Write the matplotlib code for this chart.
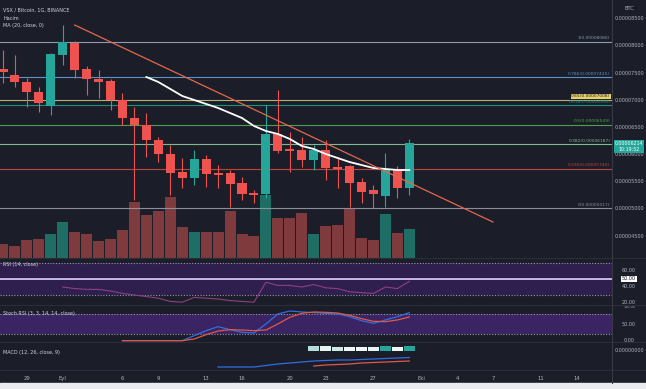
import numpy as np
import matplotlib.pyplot as plt

plt.rcParams['font.family'] = ['Liberation Sans Narrow', 'DejaVu Sans']

# VSX / Bitcoin, 1 day candles, 27 Aug -> 30 Sep. prices in satoshi (1e-8 BTC)
opens = [7575, 7464, 7335, 7151, 6894, 7832, 8053, 7575, 7391, 7354,
         7004, 6673, 6544, 6268, 6011, 5679, 5569, 5919, 5661, 5661,
         5477, 5293, 5275, 6379, 6103, 6084, 5900, 6084, 5771, 5790,
         5495, 5348, 5238, 5735, 5385]
highs = [7924, 7832, 7409, 7243, 7869, 8384, 8090, 7630, 7556, 7391,
         7133, 6875, 6765, 6323, 6176, 5937, 6084, 5992, 5808, 5716,
         5587, 5348, 6912, 7188, 6415, 6323, 6176, 6268, 5955, 5808,
         5569, 5440, 6029, 5790, 6287]
lows = [7317, 7243, 6875, 6783, 6728, 7648, 7409, 7096, 7041, 6820,
        6544, 5164, 5955, 5863, 5256, 5385, 5440, 5403, 5385, 5035,
        5164, 5109, 5200, 6029, 5679, 5771, 5716, 5532, 5385, 5035,
        5109, 5017, 5035, 5201, 5256]
closes = [7519, 7335, 7151, 6949, 7851, 8071, 7556, 7391, 7335, 7004,
          6673, 6544, 6268, 6011, 5661, 5569, 5919, 5643, 5624, 5459,
          5275, 5256, 6379, 6066, 6066, 5900, 6084, 5753, 5735, 5477,
          5311, 5275, 5735, 5385, 6214]
volumes = [1.4, 1.2, 1.8, 1.9, 2.4, 3.6, 2.6, 2.4, 1.7, 1.9,
           2.8, 5.6, 4.3, 4.7, 6.1, 3.1, 2.6, 2.6, 2.6, 4.7,
           2.4, 2.2, 6.3, 4.0, 4.0, 4.5, 2.4, 3.2, 3.3, 4.9,
           2.0, 1.8, 4.4, 2.5, 2.9]

# MA(20) starts on day 12 (8 Sep)
ma_start = 12
ma20 = [7427, 7335, 7207, 7078, 7004, 6931, 6857, 6765, 6673, 6526,
        6434, 6379, 6287, 6158, 6103, 6011, 5937, 5863, 5808, 5753,
        5735, 5716, 5716]

# fibonacci retracement drawn by hand
fib_levels = ['0', '0.236', '0.382', '0.5', '0.618', '0.65', '0.786', '1']
fib_prices = [5017, 5740, 6187, 6549, 6910, 7008, 7425, 8080]
fib_colors = ['#8c8f99', '#c0433b', '#7fb88f', '#4e9e52', '#1f8f80', '#b9ad7a', '#5b93c9', '#8d9bb0']

# trend line (day, price)
trend_days = [6, 41]
trend_prices = [8384, 4759]

# RSI(14) from day 5
rsi_start = 5
rsi = [40, 38, 37, 37, 35, 32, 30, 28, 26, 22,
       21, 27, 26, 25, 23, 22, 21, 46, 42, 42,
       40, 43, 39, 38, 34, 33, 32, 40, 38, 47]

# Stoch RSI from day 10
st_start = 10
stoch_k = [0, 0, 0, 0, 0, 0, 15, 30, 42, 33, 25, 23, 50, 80, 89, 86, 84, 82, 80, 72, 60, 52, 62, 72, 84]
stoch_d = [0, 0, 0, 0, 0, 0, 5, 18, 29, 33, 32, 30, 32, 50, 70, 82, 86, 85, 83, 76, 66, 58, 57, 62, 71]

# MACD (units of 1e-8 BTC)
macd_start = 18
macd = [-16, -16, -16, -16, -14.5, -13, -12, -11, -10, -9.5, -9, -9, -8.5, -8, -7.5, -7, -6.5]
sig_start = 26
signal = [-15, -14, -13.5, -13, -12, -11.5, -11, -10.5, -10]
hist = [5, 5, 4.5, 4.5, 4.5, 4.5, 5, 4.5, 5]
hist_colors = ['#b2dfdb', '#e6f4f2', '#cfeae6', '#eef7f6', '#eef7f6', '#e6f4f2', '#26a69a', '#eef7f6', '#26a69a']

tick_days = [2, 5, 10, 13, 17, 20, 24, 27, 31, 35, 38, 41, 45, 48]
tick_labels = ['29', 'Eyl', '6', '9', '13', '16', '20', '23', '27', 'Eki', '4', '7', '11', '14']

BG = '#1b1e29'
TXT = '#b2b5be'
UP, DOWN = '#26a69a', '#ef5350'
W, H = 646, 389
RIGHT = 612
LAB_X = 629 / RIGHT  # centre of the price scale, in axes units

fig = plt.figure(figsize=(W / 100, H / 100), dpi=100)
fig.patch.set_facecolor(BG)


def pane(top, bottom):
    a = fig.add_axes([0, 1 - bottom / H, RIGHT / W, (bottom - top) / H])
    a.set_facecolor('none')
    for s in a.spines.values():
        s.set_visible(False)
    a.set_xlim(-0.25, 50.96)
    a.set_xticks([])
    a.set_yticks([])
    return a


def scale_label(a, y, s, size=3.5, **kw):
    return a.text(LAB_X, y, s, transform=a.get_yaxis_transform(), ha='center', va='center',
                  fontsize=size, color=kw.pop('color', TXT), clip_on=False, **kw)


days = np.arange(len(closes))
o, h, l, c = map(np.array, (opens, highs, lows, closes))
up = c >= o
cols = np.where(up, UP, DOWN)

# volume underneath
ax_vol = pane(0, 258)
ax_vol.bar(days, volumes, width=0.92, color=np.where(up, '#1f6e66', '#7e3a3d'))
ax_vol.set_ylim(0, 25.8)

# price pane
ax = pane(0, 258)
ax.set_ylim(4097, 8844)
for lv, pr, col in zip(fib_levels, fib_prices, fib_colors):
    ax.axhline(pr, color=col, lw=0.8, zorder=1)
    t = ax.text(0.997, pr + 25, f'{lv}({pr * 1e-8:.8f})', transform=ax.get_yaxis_transform(),
                ha='right', va='bottom', fontsize=3.2, color=col, zorder=4)
    if lv == '0.65':
        t.set_color('#1b1e29')
        t.set_bbox(dict(facecolor='#e8d36a', edgecolor='none', pad=0.3))

ax.vlines(days, l, h, colors=cols, lw=0.8, zorder=2)
ax.bar(days, np.maximum(np.abs(c - o), 20), bottom=np.minimum(o, c), width=0.76, color=cols, zorder=2)
ax.plot(days[ma_start:], ma20, color='white', lw=1.3, zorder=3)
ax.plot(trend_days, trend_prices, color='#e3674c', lw=0.9, zorder=3)

for v in range(4500, 9000, 500):
    scale_label(ax, v, f'{v * 1e-8:.8f}')
ax.text(LAB_X, 1 - 9 / 258, 'BTC', transform=ax.transAxes, ha='center', va='center',
        fontsize=3.6, color=TXT, clip_on=False)
scale_label(ax, closes[-1] - 60, f'{closes[-1] * 1e-8:.8f}\n10:19:52', size=3.4, color='white',
            linespacing=1.15, bbox=dict(facecolor=UP, edgecolor='none', pad=0.9), zorder=5)
for i, s in enumerate(['VSX / Bitcoin, 1G, BINANCE', 'Hacim', 'MA (20, close, 0)']):
    ax.text(0.005, 1 - (10 + 8 * i) / 258, s, transform=ax.transAxes, ha='left', va='center',
            fontsize=3.5, color='#d1d4dc')

# RSI pane
ax_rsi = pane(258, 305)
ax_rsi.set_ylim(17.5, 76.25)
ax_rsi.axhspan(30, 70, color='#2e1f4e', lw=0)
for v in (30, 70):
    ax_rsi.axhline(v, color='#9598a1', lw=0.8, ls=(0, (1, 1.5)))
ax_rsi.axhline(51.6, color='#07080c', lw=1.0)
ax_rsi.axhline(50, color='#c8b9e6', lw=1.4)
ax_rsi.plot(days[rsi_start:], rsi, color='#8e3f86', lw=0.8)
for v in (60, 40, 20):
    scale_label(ax_rsi, v, f'{v:.2f}')
scale_label(ax_rsi, 50, '50.00', color='#131722',
            bbox=dict(facecolor='white', edgecolor='none', pad=0.6))
ax_rsi.text(0.005, 68, 'RSI (14, close)', fontsize=3.5, color='#d1d4dc', va='center',
            transform=ax_rsi.get_yaxis_transform())

# Stoch RSI pane
ax_st = pane(305, 342)
ax_st.set_ylim(-4, 107)
ax_st.axhspan(20, 80, color='#3a2464', lw=0)
for v in (20, 80):
    ax_st.axhline(v, color='#9598a1', lw=0.8, ls=(0, (1, 1.5)))
ax_st.plot(days[st_start:], stoch_k, color='#2f6fe0', lw=0.9)
ax_st.plot(days[st_start:], stoch_d, color='#e0584a', lw=0.9)
for v in (50, 0):
    scale_label(ax_st, v, f'{v:.2f}')
scale_label(ax_st, 100, '100.00', size=2.4)
ax_st.text(0.005, 80, 'Stoch RSI (3, 3, 14, 14, close)', fontsize=3.5, color='#d1d4dc', va='center',
           transform=ax_st.get_yaxis_transform())

# MACD pane
ax_m = pane(342, 370)
ax_m.set_ylim(-19, 9)
ax_m.bar(days[sig_start:], hist, width=0.95, color=hist_colors)
ax_m.plot(days[macd_start:], macd, color='#2f6fe0', lw=0.9)
ax_m.plot(days[sig_start:], signal, color='#e0584a', lw=0.9)
scale_label(ax_m, 0, '0.00000000')
ax_m.text(0.005, 0.62, 'MACD (12, 26, close, 9)', fontsize=3.5, color='#d1d4dc', va='center',
          transform=ax_m.transAxes)
ax_m.set_xticks(tick_days)
ax_m.set_xticklabels(tick_labels)
ax_m.tick_params(axis='x', length=0, pad=4, labelsize=3.8, labelcolor=TXT)

# pane separators and price-scale border
for yy in (258, 305, 342, 370):
    fig.add_artist(plt.Line2D([0, 1], [1 - yy / H] * 2, color='#2a2e39', lw=0.8))
fig.add_artist(plt.Line2D([RIGHT / W] * 2, [6 / H, 1], color='#363a45', lw=0.8))
fig.add_artist(plt.Rectangle((0, 0), 1, 6 / H, color='#e9ebef', transform=fig.transFigure))

fig.savefig('out.png', dpi=100, facecolor=BG)
